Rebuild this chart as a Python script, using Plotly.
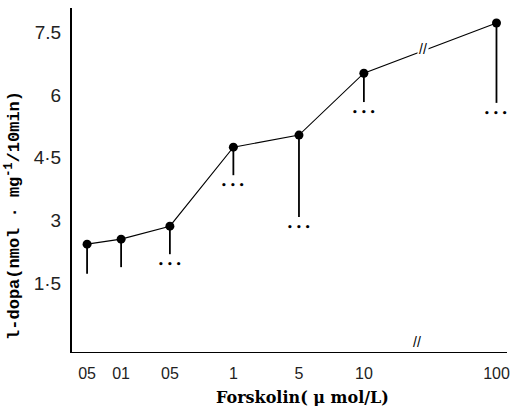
import plotly.graph_objects as go

# ---- data ----
dose_labels = ["05", "01", "05", "1", "5", "10", "100"]
dose_axis_pos = [0.43, 1.4, 2.79, 4.6, 6.47, 8.32, 12.1]   # non-linear axis placement
ldopa = [2.43, 2.55, 2.86, 4.75, 5.04, 6.52, 7.72]
ldopa_err_minus = [0.71, 0.67, 0.67, 0.67, 1.96, 0.69, 1.91]
signif = ["", "", "• • •", "• • •", "• • •", "• • •", "• • •"]
y_tick_vals = [1.5, 3, 4.5, 6, 7.5]
y_tick_text = ["1·5", "3", "4·5", "6", "7.5"]

fig = go.Figure()
fig.add_trace(go.Scatter(
    x=dose_axis_pos, y=ldopa, mode="lines+markers",
    line=dict(color="black", width=1.1),
    marker=dict(color="black", size=9),
    error_y=dict(type="data", symmetric=False, array=[0] * len(ldopa),
                 arrayminus=ldopa_err_minus, width=0, thickness=1.8, color="black"),
    showlegend=False,
))

# significance marks below the lower error bar ends
for xp, v, e, s in zip(dose_axis_pos, ldopa, ldopa_err_minus, signif):
    if s:
        fig.add_annotation(x=xp, y=v - e, text="<b>" + s + "</b>", showarrow=False, yshift=-10,
                           font=dict(size=9, color="black", family="DejaVu Sans"))

# axis break marks
fig.add_annotation(x=10.0, y=7.1, text="//", showarrow=False, bgcolor="white",
                   font=dict(size=14, color="black", family="Liberation Sans"))
fig.add_annotation(x=9.83, y=0, yref="paper", text="//", showarrow=False, bgcolor="white",
                   font=dict(size=14, color="black", family="Liberation Sans"))

# axis titles
fig.add_annotation(x=0.529, y=-0.131, xref="paper", yref="paper",
                   xanchor="center", yanchor="middle",
                   text="<b>Forskolin( μ mol/L)</b>", showarrow=False,
                   font=dict(size=16, color="black", family="DejaVu Serif"))
fig.add_annotation(x=-0.136, y=0.398, xref="paper", yref="paper", textangle=-90,
                   xanchor="center", yanchor="middle",
                   text="<b>l-dopa(nmol · mg<sup>-1</sup>/10min)</b>", showarrow=False,
                   font=dict(size=17, color="black", family="Liberation Mono"))

fig.update_xaxes(range=[0, 12.4], tickvals=dose_axis_pos, ticktext=dose_labels,
                 showline=True, linecolor="black", linewidth=1.3, showgrid=False,
                 zeroline=False, ticks="outside", ticklen=7, tickcolor="rgba(0,0,0,0)",
                 automargin=False, ticklabeloverflow="allow",
                 tickfont=dict(size=16, color="#222", family="Liberation Sans"))
fig.update_yaxes(range=[-0.15, 8.08], tickvals=y_tick_vals, ticktext=y_tick_text,
                 showline=True, linecolor="black", linewidth=2, showgrid=False,
                 zeroline=False, ticks="outside", ticklen=5, tickcolor="rgba(0,0,0,0)",
                 automargin=False,
                 tickfont=dict(size=19, color="#222", family="Liberation Sans"))

fig.update_layout(width=518, height=406, margin=dict(l=72, r=11, t=8, b=54),
                  plot_bgcolor="white", paper_bgcolor="white")

fig.write_html("out.html", config={"displayModeBar": False},
               post_script="document.body.style.margin='0';document.body.style.overflow='hidden';")
